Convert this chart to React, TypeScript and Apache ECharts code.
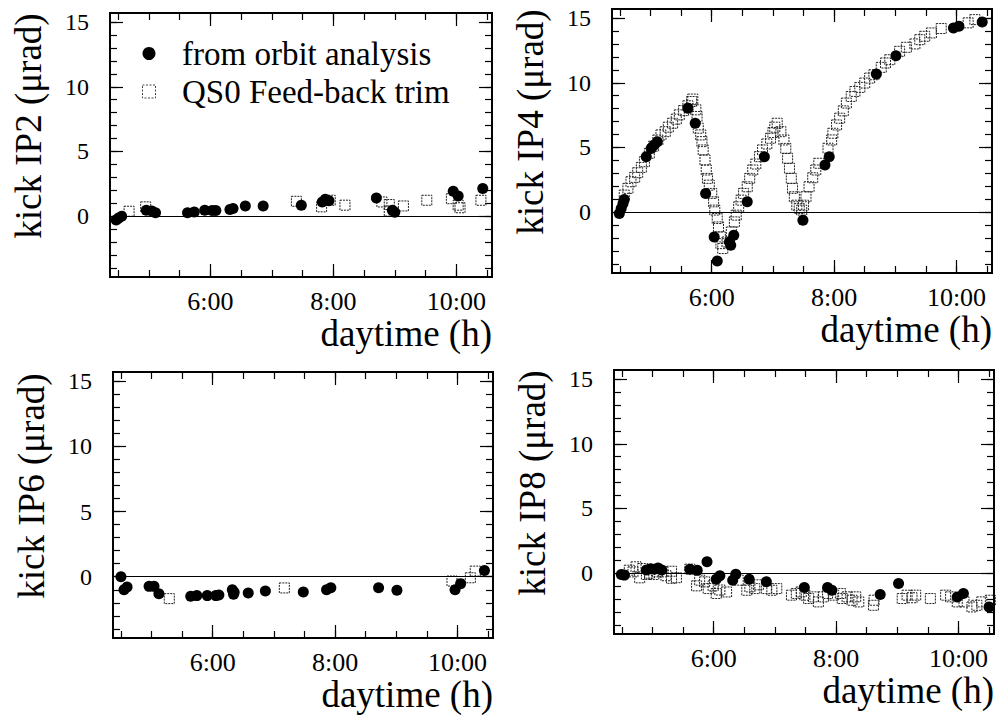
import React, { useEffect, useRef } from 'react';
import * as echarts from 'echarts';

// ---- tick values / labels ----
const xMinorTicks = [4.5, 5, 5.5, 6, 6.5, 7, 7.5, 8, 8.5, 9, 9.5, 10, 10.5];
const xMajorTicks = [6, 8, 10];
const xTickLabels = ['6:00', '8:00', '10:00'];
const yMinorTicks = [-4, -3, -2, -1, 0, 1, 2, 3, 4, 5, 6, 7, 8, 9, 10, 11, 12, 13, 14, 15];
const yMajorTicks = [0, 5, 10, 15];
const xRange = [4.37, 10.58];
const yRange = [-4.7, 15.7];

const seriesNames = ['from orbit analysis', 'QS0 Feed-back trim'];
const yTitles = ['kick IP2 (μrad)', 'kick IP4 (μrad)', 'kick IP6 (μrad)', 'kick IP8 (μrad)'];
const xTitle = 'daytime (h)';

// ---- data: [daytime h, kick µrad] ----
const ip2Orbit = [
  [4.47, -0.3], [4.51, -0.15], [4.56, 0.0], [4.96, 0.46], [5.05, 0.4], [5.11, 0.26], [5.63, 0.26],
  [5.74, 0.33], [5.91, 0.46], [6.03, 0.44], [6.09, 0.44], [6.32, 0.51], [6.37, 0.59], [6.57, 0.79],
  [6.86, 0.79], [7.48, 0.85], [7.82, 1.1], [7.87, 1.3], [7.93, 1.2], [8.70, 1.41], [8.96, 0.45],
  [9.0, 0.3], [9.95, 1.92], [10.03, 1.56], [10.43, 2.13],
];
const ip2Trim = [
  [4.68, 0.38], [4.95, 0.72], [7.40, 1.15], [7.81, 0.72], [7.95, 1.23], [8.19, 0.85], [8.79, 1.1],
  [8.91, 0.9], [8.91, 0.4], [9.14, 0.79], [9.52, 1.23], [9.92, 1.35], [10.03, 0.85], [10.06, 0.65],
  [10.40, 1.23],
];

const ip4Orbit = [
  [4.49, -0.1], [4.52, 0.28], [4.55, 0.67], [4.57, 0.98], [4.93, 4.29], [5.01, 4.93], [5.06, 5.19],
  [5.11, 5.45], [5.61, 8.04], [5.73, 6.87], [5.90, 1.45], [6.04, -1.91], [6.09, -3.77], [6.29, -2.3],
  [6.31, -2.56], [6.36, -1.78], [6.58, 0.8], [6.86, 4.29], [7.49, -0.62], [7.85, 3.64], [7.92, 4.29],
  [8.69, 10.67], [9.01, 12.09], [9.95, 14.24], [10.04, 14.37], [10.42, 14.7],
];
const ip4Trim = [
  [4.57, 1.32], [4.63, 1.84], [4.68, 2.35], [4.74, 2.69], [4.79, 3.05], [4.85, 3.46], [4.90, 3.90],
  [4.98, 4.55], [5.05, 5.1], [5.12, 5.58], [5.17, 5.97], [5.24, 6.22], [5.29, 6.57], [5.36, 6.87],
  [5.42, 7.19], [5.47, 7.52], [5.54, 7.85], [5.61, 8.22], [5.67, 8.55], [5.69, 8.74],
  [5.74, 7.91], [5.76, 7.39], [5.78, 6.49], [5.82, 5.97], [5.84, 5.45], [5.86, 4.81], [5.89, 4.03],
  [5.91, 3.26], [5.93, 2.61], [5.96, 2.09], [6.00, 1.45], [6.03, 0.80], [6.05, 0.16], [6.09, -0.49],
  [6.11, -1.14], [6.14, -1.91], [6.15, -2.43], [6.18, -2.81],
  [6.25, -2.3], [6.32, -1.53], [6.37, -0.75], [6.40, -0.23], [6.44, 0.41], [6.48, 0.93], [6.52, 1.45],
  [6.58, 1.96], [6.62, 2.61], [6.67, 3.26], [6.72, 3.72], [6.78, 4.29], [6.83, 4.81], [6.90, 5.27],
  [6.96, 5.71], [7.00, 6.15], [7.03, 6.57], [7.07, 6.87],
  [7.13, 6.22], [7.18, 5.58], [7.21, 4.93], [7.24, 4.16], [7.27, 3.39], [7.30, 2.61], [7.32, 1.84],
  [7.35, 1.19], [7.39, 0.54], [7.43, 0.28], [7.47, 0.16],
  [7.50, 0.54], [7.54, 1.19], [7.59, 1.96], [7.65, 2.66], [7.70, 3.26], [7.75, 3.78], [7.90, 4.94],
  [7.96, 5.58], [7.98, 6.1], [8.04, 6.74], [8.09, 7.26], [8.15, 7.83], [8.20, 8.43], [8.28, 8.94],
  [8.34, 9.33], [8.42, 9.64], [8.50, 9.98], [8.58, 10.36], [8.65, 10.62], [8.77, 11.19], [8.84, 11.53],
  [8.91, 11.78], [9.07, 12.43], [9.18, 12.74], [9.32, 13.0], [9.40, 13.33], [9.48, 13.59],
  [9.59, 13.85], [9.75, 14.19], [10.19, 14.63], [10.30, 14.88],
];

const ip6Orbit = [
  [4.50, 0.0], [4.55, -1.0], [4.60, -0.79], [4.96, -0.74], [5.04, -0.74], [5.12, -1.3], [5.64, -1.5],
  [5.74, -1.45], [5.91, -1.45], [6.05, -1.45], [6.10, -1.4], [6.32, -1.0], [6.34, -1.35], [6.35, -1.2],
  [6.58, -1.25], [6.86, -1.1], [7.48, -1.17], [7.86, -1.0], [7.93, -0.85], [8.71, -0.84], [9.01, -1.04],
  [9.96, -1.0], [10.05, -0.53], [10.44, 0.48],
];
const ip6Trim = [
  [5.29, -1.68], [7.17, -0.86], [9.91, -0.33], [10.21, -0.08], [10.29, 0.43],
];

const ip8Orbit = [
  [4.49, -0.1], [4.54, -0.15], [4.90, 0.25], [4.97, 0.35], [5.03, 0.3], [5.09, 0.4], [5.15, 0.25],
  [5.61, 0.31], [5.73, 0.23], [5.89, 0.88], [6.04, -0.47], [6.10, -0.2], [6.31, -0.54], [6.36, -0.08],
  [6.58, -0.47], [6.86, -0.67], [7.48, -1.11], [7.86, -1.11], [7.93, -1.32], [8.72, -1.65],
  [9.02, -0.8], [9.98, -1.84], [10.08, -1.57], [10.50, -2.61],
];
const ip8Trim = [
  [4.62, 0.23], [4.68, 0.1], [4.73, 0.49], [4.79, -0.36], [4.84, 0.36], [4.90, -0.1], [4.95, 0.0],
  [5.02, -0.1], [5.08, 0.1], [5.17, 0.1], [5.22, -0.2], [5.31, 0.15], [5.31, -0.4], [5.39, -0.35],
  [5.61, 0.31], [5.72, -0.98], [5.77, -0.54], [5.85, -0.67], [5.91, -1.19], [5.99, -0.98],
  [6.04, -1.57], [6.10, -1.3], [6.21, -1.45], [6.40, -0.54], [6.54, -1.32], [6.59, -1.06],
  [6.67, -1.19], [6.73, -0.9], [6.86, -1.19], [6.95, -1.32], [7.03, -1.19], [7.27, -1.7],
  [7.35, -1.57], [7.43, -1.45], [7.49, -1.7], [7.55, -1.96], [7.63, -1.83], [7.71, -2.22],
  [7.79, -1.83], [7.86, -1.57], [7.96, -1.7], [8.07, -1.57], [8.10, -1.96], [8.18, -1.83],
  [8.26, -2.09], [8.32, -1.83], [8.37, -2.22], [8.61, -2.48], [8.62, -2.09], [9.08, -1.96],
  [9.16, -1.7], [9.24, -1.9], [9.30, -1.7], [9.54, -1.96], [9.79, -1.7], [9.87, -1.83],
  [9.98, -2.22], [10.09, -2.22], [10.22, -2.61], [10.30, -2.48], [10.38, -2.22], [10.52, -2.09],
];

const orbitData = [ip2Orbit, ip4Orbit, ip6Orbit, ip8Orbit];
const trimData = [ip2Trim, ip4Trim, ip6Trim, ip8Trim];

// ---- layout ----
const gridBoxes = [
  { left: 110, top: 13, width: 382, height: 264 },
  { left: 612, top: 9, width: 380, height: 264 },
  { left: 113, top: 372, width: 380, height: 266 },
  { left: 614, top: 370, width: 380, height: 264 },
];

const FONT = '"Liberation Serif", "Times New Roman", serif';

function buildOption() {
  const grid: any[] = [];
  const xAxis: any[] = [];
  const yAxis: any[] = [];
  const series: any[] = [];

  const lineStyle = { color: '#000', width: 1.8 };
  const tickStyle = { color: '#000', width: 1.2 };

  gridBoxes.forEach((g, i) => {
    grid.push({ ...g, show: false });
    const xBase = {
      type: 'value', gridIndex: i, min: xRange[0], max: xRange[1],
      splitLine: { show: false },
      axisLine: { show: true, onZero: false, lineStyle },
    };
    const yBase = {
      type: 'value', gridIndex: i, min: yRange[0], max: yRange[1],
      splitLine: { show: false },
      axisLine: { show: true, onZero: false, lineStyle },
    };
    const minorX = { show: true, inside: true, length: 7, customValues: xMinorTicks, lineStyle: tickStyle };
    const majorX = { show: true, inside: true, length: 13, customValues: xMajorTicks, lineStyle: tickStyle };
    const minorY = { show: true, inside: true, length: 7, customValues: yMinorTicks, lineStyle: tickStyle };
    const majorY = { show: true, inside: true, length: 13, customValues: yMajorTicks, lineStyle: tickStyle };

    // main x axis (index 5*i): ticks + labels
    xAxis.push({
      ...xBase, position: 'bottom', axisTick: minorX,
      axisLabel: {
        show: true, customValues: xMajorTicks,
        formatter: (v: number) => {
          const k = xMajorTicks.indexOf(v);
          return k >= 0 ? xTickLabels[k] : '';
        },
        fontSize: 26, fontFamily: FONT, color: '#000', margin: 11,
      },
    });
    xAxis.push({ ...xBase, position: 'top', axisTick: minorX, axisLabel: { show: false } });
    xAxis.push({ ...xBase, position: 'bottom', axisTick: majorX, axisLabel: { show: false } });
    xAxis.push({ ...xBase, position: 'top', axisTick: majorX, axisLabel: { show: false } });
    // title-only axis, offset below the tick labels
    xAxis.push({
      ...xBase, position: 'bottom', offset: 38,
      axisLine: { show: false, onZero: false }, axisTick: { show: false }, axisLabel: { show: false },
      name: xTitle, nameLocation: 'end', nameGap: 0,
      nameTextStyle: {
        fontSize: 37, fontFamily: FONT, color: '#000',
        align: 'right', verticalAlign: 'top',
      },
    });

    yAxis.push({
      ...yBase, position: 'left', axisTick: minorY,
      axisLabel: {
        show: true, customValues: yMajorTicks,
        fontSize: 24, fontFamily: FONT, color: '#000', margin: 21,
      },
      name: yTitles[i], nameLocation: 'middle', nameGap: 63, nameRotate: 90,
      nameTextStyle: {
        fontSize: 37, fontFamily: FONT, color: '#000', padding: [0, 0, 0, 38],
      },
    });
    yAxis.push({ ...yBase, position: 'right', axisTick: minorY, axisLabel: { show: false } });
    yAxis.push({ ...yBase, position: 'left', axisTick: majorY, axisLabel: { show: false } });
    yAxis.push({ ...yBase, position: 'right', axisTick: majorY, axisLabel: { show: false } });

    series.push({
      type: 'scatter', name: seriesNames[1],
      xAxisIndex: i * 5, yAxisIndex: i * 4,
      symbol: 'rect', symbolSize: 10,
      itemStyle: { color: 'rgba(255,255,255,0)', borderColor: '#222', borderWidth: 1, borderType: [2, 1], opacity: 1 },
      data: trimData[i],
      silent: true,
    });
    series.push({
      type: 'scatter', name: seriesNames[0],
      xAxisIndex: i * 5, yAxisIndex: i * 4,
      symbol: 'circle', symbolSize: 11,
      itemStyle: { color: '#000', opacity: 1 },
      data: orbitData[i],
      silent: true,
      markLine: {
        silent: true, symbol: 'none', label: { show: false },
        lineStyle: { color: '#000', width: 1, type: 'solid', opacity: 1 },
        data: [{ yAxis: 0 }],
      },
    });
  });

  return {
    animation: false,
    backgroundColor: '#fff',
    grid, xAxis, yAxis, series,
    legend: {
      orient: 'vertical', left: 142, top: 37, padding: 0,
      itemWidth: 56, itemHeight: 13, itemGap: 5,
      selectedMode: false,
      textStyle: { fontSize: 33, fontFamily: FONT, color: '#000' },
      data: [
        { name: seriesNames[0], icon: 'circle', itemStyle: { color: '#000', opacity: 1 } },
        {
          name: seriesNames[1], icon: 'path://M0,0L10,0L10,10L0,10Z',
          itemStyle: { color: 'rgba(255,255,255,0)', borderColor: '#444', borderWidth: 1, borderType: [2, 1.5], opacity: 1 },
        },
      ],
    },
  };
}

export default function App() {
  const ref = useRef<HTMLDivElement>(null);
  useEffect(() => {
    if (!ref.current) return;
    const chart = echarts.init(ref.current, undefined, { renderer: 'svg' });
    chart.setOption(buildOption() as any);
    return () => chart.dispose();
  }, []);
  return (
    <div
      ref={ref}
      style={{ position: 'fixed', left: 0, top: 0, width: 997, height: 716, background: '#fff' }}
    />
  );
}
